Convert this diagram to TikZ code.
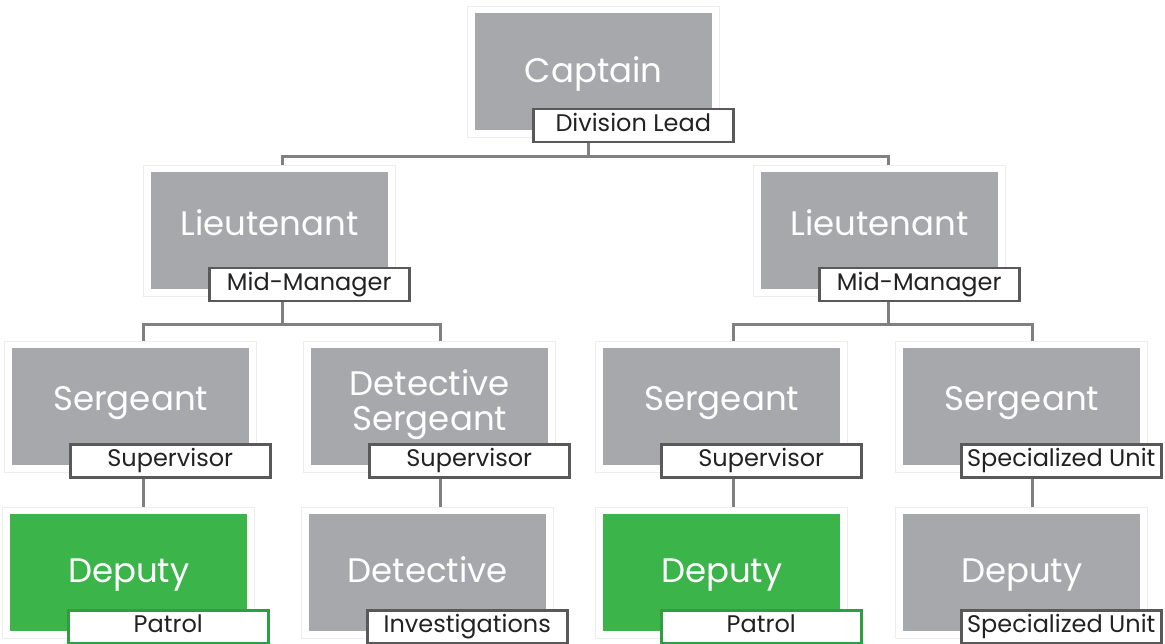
\documentclass[tikz,border=0pt]{standalone}
\usepackage{fontspec}
\setmainfont{Poppins}
\definecolor{boxgray}{HTML}{A7A8AC}
\definecolor{boxgreen}{HTML}{3BB44A}
\definecolor{lblgreen}{HTML}{2E9E40}
\definecolor{lblgray}{HTML}{595959}
\definecolor{linegray}{HTML}{808080}
\definecolor{framegray}{HTML}{EDEDED}
\definecolor{txtdark}{HTML}{222222}
\tikzset{
 frame/.style={draw=framegray, line width=1pt, fill=white, minimum width=252pt, minimum height=131pt, anchor=north west, inner sep=0pt},
 role/.style={fill=boxgray, minimum width=237pt, minimum height=117pt, anchor=north west, text=white, font=\fontsize{34}{35}\selectfont, align=center, inner sep=0pt, text height=25pt, text depth=8pt},
 tag/.style={draw=lblgray, line width=2.5pt, fill=white, minimum width=200pt, minimum height=33pt, anchor=north west, text=txtdark, font=\fontsize{24}{25}\selectfont, inner sep=0pt, text height=17pt, text depth=5pt},
 conn/.style={draw=linegray, line width=3pt}
}
% #1 name, #2 x, #3 y, #4 text, #5 label, #6 fill, #7 label border, #8 extra role options
\newcommand\rolebox[8]{%
 \node[frame] (#1f) at (#2-8,#3-7) {};
 \node[role, fill=#6, #8] (#1) at (#2,#3) {#4};
 \node[tag, draw=#7] (#1t) at (#2+57,#3+95) {#5};
}
\begin{document}
\begin{tikzpicture}[x=1pt,y=-1pt]
\useasboundingbox (0,0) rectangle (1165,644);
% junction points of the connector buses
\coordinate (busA) at (588,157);
\coordinate (busB) at (282,325);
\coordinate (busC) at (888,325);
% connector end points
\coordinate (capout) at (588,141);
\coordinate (ltAin) at (282,165);
\coordinate (ltBin) at (888,165);
\coordinate (ltAout) at (282,300);
\coordinate (ltBout) at (888,300);
\coordinate (sgAin) at (143,341);
\coordinate (dsgin) at (440,341);
\coordinate (sgBin) at (733,341);
\coordinate (sgCin) at (1032,341);
\coordinate (sgAout) at (143,476);
\coordinate (dsgout) at (440,476);
\coordinate (sgBout) at (733,476);
\coordinate (sgCout) at (1032,476);
\coordinate (dpAin) at (143,507);
\coordinate (detin) at (440,507);
\coordinate (dpBin) at (733,507);
\coordinate (dpCin) at (1032,507);
\draw[conn] (capout) |- (busA);
\draw[conn] (ltAin) |- (busA) -| (ltBin);
\draw[conn] (ltAout) |- (busB);
\draw[conn] (sgAin) |- (busB) -| (dsgin);
\draw[conn] (ltBout) |- (busC);
\draw[conn] (sgBin) |- (busC) -| (sgCin);
\draw[conn] (sgAout) -- (dpAin);
\draw[conn] (dsgout) -- (detin);
\draw[conn] (sgBout) -- (dpBin);
\draw[conn] (sgCout) -- (dpCin);
% boxes
\rolebox{cap}{475}{13}{Captain}{Division Lead}{boxgray}{lblgray}{text depth=4pt}
\rolebox{ltA}{151}{172}{Lieutenant}{Mid-Manager}{boxgray}{lblgray}{text depth=16pt}
\rolebox{ltB}{761}{172}{Lieutenant}{Mid-Manager}{boxgray}{lblgray}{text depth=16pt}
\rolebox{sgA}{12}{348}{Sergeant}{Supervisor}{boxgray}{lblgray}{text depth=18pt}
\rolebox{dsg}{311}{348}{Detective\\Sergeant}{Supervisor}{boxgray}{lblgray}{text height=60pt, text depth=13pt}
\rolebox{sgB}{603}{348}{Sergeant}{Supervisor}{boxgray}{lblgray}{text depth=18pt}
\rolebox{sgC}{903}{348}{Sergeant}{Specialized Unit}{boxgray}{lblgray}{text depth=18pt}
\rolebox{dpA}{10}{514}{Deputy}{Patrol}{boxgreen}{lblgreen}{text depth=6pt}
\rolebox{det}{309}{514}{Detective}{Investigations}{boxgray}{lblgray}{text depth=6pt}
\rolebox{dpB}{603}{514}{Deputy}{Patrol}{boxgreen}{lblgreen}{text depth=6pt}
\rolebox{dpC}{903}{514}{Deputy}{Specialized Unit}{boxgray}{lblgray}{text depth=6pt}
\end{tikzpicture}
\end{document}
